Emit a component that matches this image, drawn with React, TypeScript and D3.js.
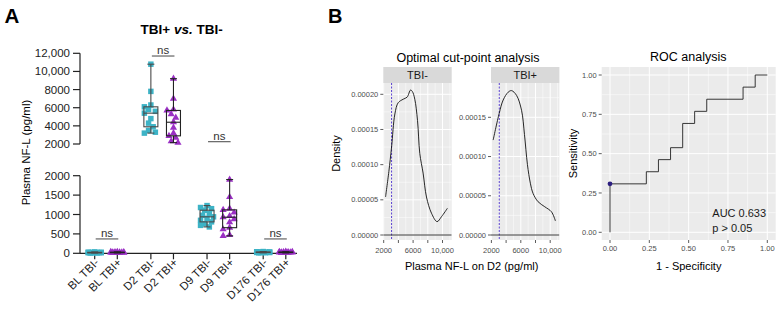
import React from 'react';
import * as d3 from 'd3';

// ---------- Panel A data ----------
const timepoints = ['BL', 'D2', 'D9', 'D176'];
const cohorts = ['TBI-', 'TBI+'];
const blNeg = [8, 10, 12, 14, 15, 17, 18, 20, 22, 25, 28, 30, 35];
const blPos = [10, 12, 14, 16, 18, 20, 22, 24, 26, 28, 31, 34, 38];
const d2Neg = [3200, 3300, 3500, 3900, 4300, 4800, 5400, 5600, 5800, 6100, 6300, 7800, 10800];
const d2Pos = [2150, 2300, 2700, 2900, 3200, 3800, 4400, 4900, 5300, 5700, 5800, 7000, 9200];
const d9Neg = [680, 720, 760, 810, 850, 900, 940, 980, 1020, 1110, 1150, 1180, 1230];
const d9Pos = [450, 470, 620, 660, 800, 880, 930, 960, 1050, 1120, 1150, 1450, 1900];
const d176Neg = [12, 15, 18, 20, 22, 24, 26, 28, 30, 33, 36, 40, 45];
const d176Pos = [10, 13, 16, 19, 21, 23, 25, 27, 30, 32, 35, 39, 42];
const upperTicks = [2000, 4000, 6000, 8000, 10000, 12000];
const lowerTicks = [0, 500, 1000, 1500, 2000];
const nsTimepoints = ['BL', 'D2', 'D9', 'D176'];
const nsLevels = [370, 11700, 2250, 370];

// ---------- Panel B data ----------
const densNegX = [2250, 2700, 3070, 3520, 3970, 4650, 5190, 5650, 5900, 6230, 6600, 6910, 7360, 7820, 8500, 9260, 9860, 10670];
const densNegY = [0.000054, 0.00009, 0.000125, 0.000172, 0.000188, 0.000193, 0.000196, 0.000206, 0.000204, 0.000193, 0.000163, 0.000116, 0.000088, 0.000054, 0.000031, 0.000019, 0.000026, 0.000038];
const densPosX = [2240, 3060, 3600, 4280, 4740, 5420, 6100, 6500, 6900, 7300, 7670, 8350, 9260, 10170, 10710];
const densPosY = [0.000121, 0.000155, 0.000172, 0.000182, 0.000184, 0.000178, 0.000159, 0.000128, 0.00009, 0.000066, 0.000053, 0.0000424, 0.000036, 0.0000296, 0.000018];
const cutPoint = 3070;
const densXMajor = [2000, 4000, 6000, 8000, 10000];
const densXMinor = [3000, 5000, 7000, 9000, 11000];
const densXLabels = ['2000', '', '6000', '', '10,000'];
const densNegYMajor = [0, 0.00005, 0.0001, 0.00015, 0.0002];
const densPosYMajor = [0, 0.00005, 0.0001, 0.00015];

const rocFpr = [0, 0, 0.231, 0.231, 0.308, 0.308, 0.385, 0.385, 0.462, 0.462, 0.538, 0.538, 0.615, 0.615, 0.846, 0.846, 0.923, 0.923, 1];
const rocTpr = [0, 0.308, 0.308, 0.385, 0.385, 0.462, 0.462, 0.538, 0.538, 0.692, 0.692, 0.769, 0.769, 0.846, 0.846, 0.923, 0.923, 1, 1];
const rocTicks = [0, 0.25, 0.5, 0.75, 1];
const rocMinor = [0.125, 0.375, 0.625, 0.875];
const optimalPoint = [0, 0.308];

const TEAL = '#3db3c6';
const PURPLE = '#9a2fc4';
const FONT = 'Liberation Sans, Arial, Helvetica, sans-serif';

function swarm(ys: number[]): number[] {
  const cands = [0, -4.5, 4.5, -2.3, 2.3, -6.5, 6.5];
  const placed: { x: number; y: number }[] = [];
  return ys.map((y) => {
    let best = 0;
    let bestScore = -Infinity;
    for (const c of cands) {
      let minD = Infinity;
      for (const p of placed) {
        const d = Math.hypot(p.x - c, p.y - y);
        if (d < minD) minD = d;
      }
      const score = Math.min(minD, 5) - Math.abs(c) * 0.01;
      if (score > bestScore + 1e-9) {
        bestScore = score;
        best = c;
      }
    }
    placed.push({ x: best, y });
    return best;
  });
}

function PanelA() {
  const xGroup = d3.scalePoint<string>().domain(timepoints).range([106, 274.5]);
  const xSub = d3.scalePoint<string>().domain(cohorts).range([-11.3, 11.3]);
  const yUp = d3.scaleLinear().domain([2000, 12000]).range([144, 53.3]);
  const yLo = d3.scaleLinear().domain([0, 2000]).range([253.3, 175.7]);
  const yFor = (v: number) => (v > 2000 ? yUp(v) : yLo(v));
  const allGroups = [blNeg, blPos, d2Neg, d2Pos, d9Neg, d9Pos, d176Neg, d176Pos];
  const sq = d3.symbol().type(d3.symbolSquare).size(30)()!;
  const tri = d3.symbol().type(d3.symbolTriangle).size(22)()!;
  const axisX0 = 80;
  const bw = 14;

  const items = allGroups.map((vals, i) => {
    const tp = timepoints[Math.floor(i / 2)];
    const co = cohorts[i % 2];
    const cx = xGroup(tp)! + xSub(co)!;
    const sorted = [...vals].sort((a, b) => b - a);
    const ys = sorted.map(yFor);
    const offs = swarm(ys);
    const asc = [...vals].sort((a, b) => a - b);
    const q1 = d3.quantile(asc, 0.25)!;
    const med = d3.quantile(asc, 0.5)!;
    const q3 = d3.quantile(asc, 0.75)!;
    const mn = asc[0];
    const mx = asc[asc.length - 1];
    const color = co === 'TBI-' ? TEAL : PURPLE;
    const stroke = co === 'TBI-' ? '#4a4a4a' : '#222';
    return (
      <g key={i}>
        {sorted.map((v, j) => (
          <path key={j} d={co === 'TBI-' ? sq : tri} transform={`translate(${cx + offs[j]},${ys[j]})`} fill={color} />
        ))}
        <g stroke={stroke} strokeWidth={1.1} fill="none">
          <line x1={cx} x2={cx} y1={yFor(mx)} y2={yFor(q3)} />
          <line x1={cx} x2={cx} y1={yFor(q1)} y2={yFor(mn)} />
          <line x1={cx - 3.5} x2={cx + 3.5} y1={yFor(mx)} y2={yFor(mx)} />
          <line x1={cx - 3.5} x2={cx + 3.5} y1={yFor(mn)} y2={yFor(mn)} />
          <rect x={cx - bw / 2} y={yFor(q3)} width={bw} height={Math.max(0.5, yFor(q1) - yFor(q3))} />
          <line x1={cx - bw / 2} x2={cx + bw / 2} y1={yFor(med)} y2={yFor(med)} />
        </g>
      </g>
    );
  });

  return (
    <g fontFamily={FONT}>
      <text x={4.5} y={23} fontSize={20.5} fontWeight="bold">A</text>
      <text x={181.7} y={34} fontSize={13.5} fontWeight="bold" textAnchor="middle">
        TBI+ <tspan fontStyle="italic">vs.</tspan> TBI-
      </text>
      <text transform="translate(29.5,152.5) rotate(-90)" fontSize={11.5} textAnchor="middle">Plasma NF-L (pg/ml)</text>
      {/* axes */}
      <g stroke="#222" strokeWidth={1.2}>
        <line x1={axisX0} x2={axisX0} y1={yUp(12000)} y2={yUp(2000)} />
        <line x1={axisX0} x2={axisX0} y1={yLo(2000)} y2={yLo(0)} />
        <line x1={axisX0} x2={297} y1={yLo(0)} y2={yLo(0)} />
        {upperTicks.map((t) => <line key={'u' + t} x1={axisX0 - 7} x2={axisX0} y1={yUp(t)} y2={yUp(t)} />)}
        {lowerTicks.map((t) => <line key={'l' + t} x1={axisX0 - 7} x2={axisX0} y1={yLo(t)} y2={yLo(t)} />)}
        {timepoints.flatMap((tp) => cohorts.map((co) => {
          const x = xGroup(tp)! + xSub(co)!;
          return <line key={tp + co} x1={x} x2={x} y1={yLo(0)} y2={yLo(0) + 6} />;
        }))}
      </g>
      {upperTicks.map((t) => (
        <text key={'ut' + t} x={axisX0 - 10} y={yUp(t)} dy="0.35em" fontSize={11.5} textAnchor="end" fill="#222">{d3.format(t >= 10000 ? ',' : 'd')(t)}</text>
      ))}
      {lowerTicks.map((t) => (
        <text key={'lt' + t} x={axisX0 - 10} y={yLo(t)} dy="0.35em" fontSize={11.5} textAnchor="end" fill="#222">{t}</text>
      ))}
      {timepoints.flatMap((tp) => cohorts.map((co) => {
        const x = xGroup(tp)! + xSub(co)!;
        return (
          <text key={'xl' + tp + co} transform={`translate(${x + 5},${yLo(0) + 10}) rotate(-45)`} fontSize={11.5} textAnchor="end" fill="#222">{`${tp} ${co}`}</text>
        );
      }))}
      {items}
      {nsTimepoints.map((tp, i) => {
        const x1 = xGroup(tp)! + xSub('TBI-')! + 1;
        const x2 = xGroup(tp)! + xSub('TBI+')! + 1;
        const y = yFor(nsLevels[i]);
        return (
          <g key={'ns' + tp}>
            <line x1={x1} x2={x2} y1={y} y2={y} stroke="#444" strokeWidth={1} />
            <text x={(x1 + x2) / 2} y={y - 2} fontSize={11.5} textAnchor="middle" fill="#333">ns</text>
          </g>
        );
      })}
    </g>
  );
}

function DensityPanel(props: { x0: number; x1: number; label: string; xs: number[]; ys: number[]; yMajor: number[]; yTop: number }) {
  const { x0, x1, label, xs, ys, yMajor, yTop } = props;
  const py0 = 83, py1 = 240, sy0 = 67;
  const x = d3.scaleLinear().domain([2000, 10000]).range([x0 + 0.4, x0 + 59.2]);
  const y = d3.scaleLinear().domain([0, yTop]).range([235, yTop === 0.0002 ? 94.3 : 117.3]);
  const yMinor = yMajor.slice(0, -1).map((v, i) => (v + yMajor[i + 1]) / 2).concat([yMajor[yMajor.length - 1] + (yMajor[1] - yMajor[0]) / 2]).filter((v) => y(v) > py0);
  const line = d3.line<number>().x((_, i) => x(xs[i])).y((d) => y(d)).curve(d3.curveCatmullRom.alpha(0.5));
  const clipId = 'clip' + label.replace(/[^a-z]/gi, '') + (label.includes('+') ? 'p' : 'n');
  return (
    <g fontFamily={FONT}>
      <defs>
        <clipPath id={clipId}><rect x={x0} y={py0} width={x1 - x0} height={py1 - py0} /></clipPath>
      </defs>
      <rect x={x0} y={sy0} width={x1 - x0} height={py0 - sy0} fill="#D9D9D9" />
      <text x={(x0 + x1) / 2} y={79} fontSize={11} textAnchor="middle" fill="#1A1A1A">{label}</text>
      <rect x={x0} y={py0} width={x1 - x0} height={py1 - py0} fill="#EBEBEB" />
      <g clipPath={`url(#${clipId})`}>
        {densXMinor.map((v) => <line key={'xm' + v} x1={x(v)} x2={x(v)} y1={py0} y2={py1} stroke="#fff" strokeWidth={0.5} />)}
        {yMinor.map((v) => <line key={'ym' + v} x1={x0} x2={x1} y1={y(v)} y2={y(v)} stroke="#fff" strokeWidth={0.5} />)}
        {densXMajor.map((v) => <line key={'xM' + v} x1={x(v)} x2={x(v)} y1={py0} y2={py1} stroke="#fff" strokeWidth={1} />)}
        {yMajor.map((v) => <line key={'yM' + v} x1={x0} x2={x1} y1={y(v)} y2={y(v)} stroke="#fff" strokeWidth={1} />)}
        <line x1={x(cutPoint)} x2={x(cutPoint)} y1={py0} y2={py1} stroke="#5a40d0" strokeWidth={1} strokeDasharray="2,1.5" />
        <line x1={x0} x2={x1} y1={y(0)} y2={y(0)} stroke="#222" strokeWidth={0.9} />
        <path d={line(ys)!} fill="none" stroke="#111" strokeWidth={0.9} />
      </g>
      {yMajor.map((v) => (
        <g key={'yt' + v}>
          <line x1={x0 - 3} x2={x0} y1={y(v)} y2={y(v)} stroke="#333" strokeWidth={0.8} />
          <text x={x0 - 5} y={y(v)} dy="0.35em" fontSize={7.5} textAnchor="end" fill="#4D4D4D">{d3.format('.5f')(v)}</text>
        </g>
      ))}
      {densXMajor.map((v, i) => (
        <g key={'xt' + v}>
          <line x1={x(v)} x2={x(v)} y1={py1} y2={py1 + 3} stroke="#333" strokeWidth={0.8} />
          <text x={x(v)} y={252.5} fontSize={7.5} textAnchor="middle" fill="#4D4D4D">{densXLabels[i]}</text>
        </g>
      ))}
    </g>
  );
}

function RocPanel() {
  const px0 = 601.7, px1 = 775.7, py0 = 67, py1 = 240;
  const x = d3.scaleLinear().domain([0, 1]).range([610, 767.3]);
  const y = d3.scaleLinear().domain([0, 1]).range([232.3, 75]);
  const line = d3.line<number>().x((d) => x(d)).y((_, i) => y(rocTpr[i]));
  return (
    <g fontFamily={FONT}>
      <text x={688.3} y={60.5} fontSize={12.5} textAnchor="middle" fill="#000">ROC analysis</text>
      <rect x={px0} y={py0} width={px1 - px0} height={py1 - py0} fill="#EBEBEB" />
      {rocMinor.map((v) => (
        <g key={'m' + v} stroke="#fff" strokeWidth={0.5}>
          <line x1={x(v)} x2={x(v)} y1={py0} y2={py1} />
          <line x1={px0} x2={px1} y1={y(v)} y2={y(v)} />
        </g>
      ))}
      {rocTicks.map((v) => (
        <g key={'M' + v} stroke="#fff" strokeWidth={1}>
          <line x1={x(v)} x2={x(v)} y1={py0} y2={py1} />
          <line x1={px0} x2={px1} y1={y(v)} y2={y(v)} />
        </g>
      ))}
      <path d={line(rocFpr)!} fill="none" stroke="#222" strokeWidth={0.9} />
      <circle cx={x(optimalPoint[0])} cy={y(optimalPoint[1])} r={2.4} fill="#2d1f80" />
      <text x={712.3} y={217.3} fontSize={11} fill="#1a1a1a">AUC 0.633</text>
      <text x={712.3} y={232.3} fontSize={11} fill="#1a1a1a">p &gt; 0.05</text>
      {rocTicks.map((v) => (
        <g key={'t' + v}>
          <line x1={px0 - 3} x2={px0} y1={y(v)} y2={y(v)} stroke="#333" strokeWidth={0.8} />
          <text x={px0 - 5} y={y(v)} dy="0.35em" fontSize={7.5} textAnchor="end" fill="#4D4D4D">{d3.format('.2f')(v)}</text>
          <line x1={x(v)} x2={x(v)} y1={py1} y2={py1 + 3} stroke="#333" strokeWidth={0.8} />
          <text x={x(v)} y={251} fontSize={7.5} textAnchor="middle" fill="#4D4D4D">{d3.format('.2f')(v)}</text>
        </g>
      ))}
      <text transform="translate(576.5,153.5) rotate(-90)" fontSize={11} textAnchor="middle">Sensitivity</text>
      <text x={688.7} y={270} fontSize={11} textAnchor="middle">1 - Specificity</text>
    </g>
  );
}

export default function App() {
  return (
    <svg width={784} height={310} style={{ position: 'absolute', left: 0, top: 0, background: '#fff' }}>
      <rect width={784} height={310} fill="#fff" />
      <PanelA />
      <g fontFamily={FONT}>
        <text x={328} y={23.3} fontSize={20} fontWeight="bold">B</text>
        <text x={468} y={61.5} fontSize={12.5} textAnchor="middle">Optimal cut-point analysis</text>
        <text transform="translate(340,153.5) rotate(-90)" fontSize={11} textAnchor="middle">Density</text>
        <text x={471.7} y={270} fontSize={11} textAnchor="middle">Plasma NF-L on D2 (pg/ml)</text>
      </g>
      <DensityPanel x0={383.3} x1={451.7} label="TBI-" xs={densNegX} ys={densNegY} yMajor={densNegYMajor} yTop={0.0002} />
      <DensityPanel x0={491} x1={559.4} label="TBI+" xs={densPosX} ys={densPosY} yMajor={densPosYMajor} yTop={0.00015} />
      <RocPanel />
    </svg>
  );
}
